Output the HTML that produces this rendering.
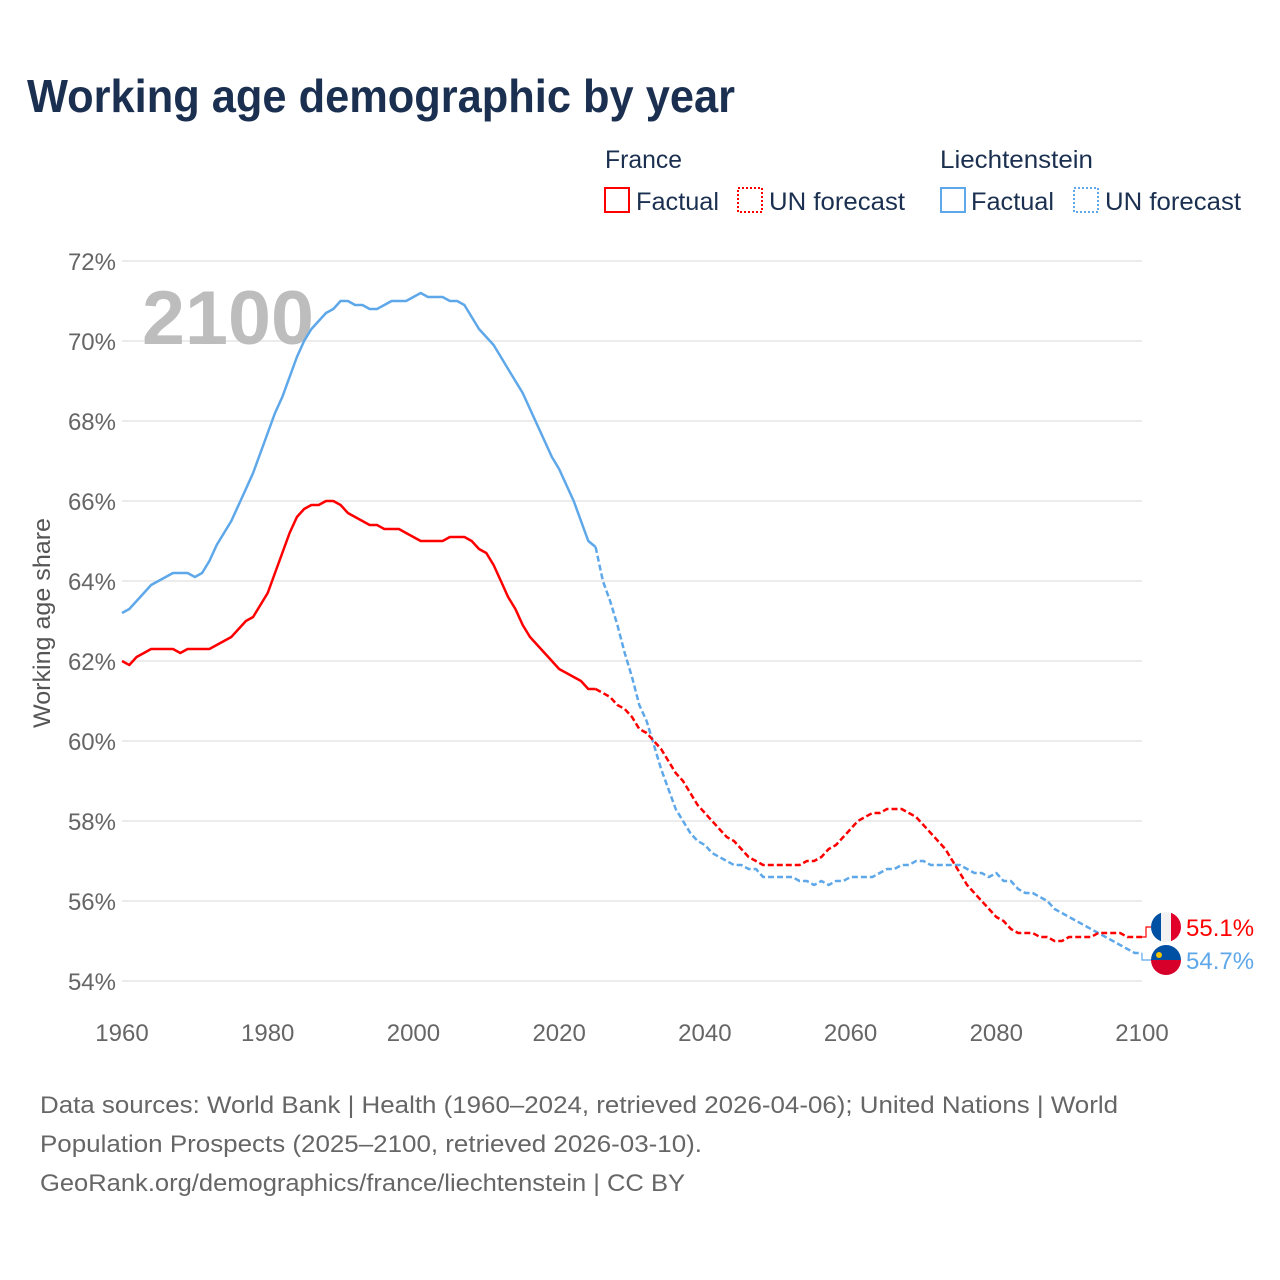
<!DOCTYPE html>
<html><head><meta charset="utf-8"><style>
body{margin:0;background:#fff;font-family:"Liberation Sans",sans-serif;}
#wrap{position:relative;width:1280px;height:1280px;overflow:hidden;}
</style></head><body>
<div id="wrap">
<svg id="chart" width="1280" height="1280" xmlns="http://www.w3.org/2000/svg">
<text x="27" y="112" font-size="46" font-weight="bold" fill="#1b3050" textLength="708" lengthAdjust="spacingAndGlyphs">Working age demographic by year</text>
<g font-size="25" fill="#1b3050">
<text x="605" y="168" textLength="77" lengthAdjust="spacingAndGlyphs">France</text>
<rect x="605" y="188" width="24" height="24" fill="none" stroke="#f00" stroke-width="2"/>
<text x="636" y="210" textLength="83" lengthAdjust="spacingAndGlyphs">Factual</text>
<rect x="738" y="188" width="24" height="24" fill="none" stroke="#f00" stroke-width="2" stroke-dasharray="2,2"/>
<text x="769" y="210" textLength="136" lengthAdjust="spacingAndGlyphs">UN forecast</text>
<text x="940" y="168" textLength="153" lengthAdjust="spacingAndGlyphs">Liechtenstein</text>
<rect x="941" y="188" width="24" height="24" fill="none" stroke="#5ea8ea" stroke-width="2"/>
<text x="971" y="210" textLength="83" lengthAdjust="spacingAndGlyphs">Factual</text>
<rect x="1074" y="188" width="24" height="24" fill="none" stroke="#5ea8ea" stroke-width="2" stroke-dasharray="2,2"/>
<text x="1105" y="210" textLength="136" lengthAdjust="spacingAndGlyphs">UN forecast</text>
</g>
<g id="grid"></g>
<text x="142" y="344" font-size="76" font-weight="bold" fill="#bdbdbd" textLength="172" lengthAdjust="spacingAndGlyphs">2100</text>
<text transform="translate(50,623) rotate(-90)" text-anchor="middle" font-size="24" fill="#555" textLength="210" lengthAdjust="spacingAndGlyphs">Working age share</text>
<g id="series"></g>
<g font-size="24" fill="#666">
<text x="40" y="1113" textLength="1078" lengthAdjust="spacingAndGlyphs">Data sources: World Bank | Health (1960–2024, retrieved 2026-04-06); United Nations | World</text>
<text x="40" y="1152" textLength="662" lengthAdjust="spacingAndGlyphs">Population Prospects (2025–2100, retrieved 2026-03-10).</text>
<text x="40" y="1191" textLength="645" lengthAdjust="spacingAndGlyphs">GeoRank.org/demographics/france/liechtenstein | CC BY</text>
</g>
</svg>
</div>
<script>
const yTicks=[54,56,58,60,62,64,66,68,70,72];
const xTicks=[1960,1980,2000,2020,2040,2060,2080,2100];
const franceFactual=[62.0,61.9,62.1,62.2,62.3,62.3,62.3,62.3,62.2,62.3,62.3,62.3,62.3,62.4,62.5,62.6,62.8,63.0,63.1,63.4,63.7,64.2,64.7,65.2,65.6,65.8,65.9,65.9,66.0,66.0,65.9,65.7,65.6,65.5,65.4,65.4,65.3,65.3,65.3,65.2,65.1,65.0,65.0,65.0,65.0,65.1,65.1,65.1,65.0,64.8,64.7,64.4,64.0,63.6,63.3,62.9,62.6,62.4,62.2,62.0,61.8,61.7,61.6,61.5,61.3,61.3];
const franceForecast=[61.3,61.2,61.1,60.9,60.8,60.6,60.3,60.2,60.0,59.8,59.5,59.2,59.0,58.7,58.4,58.2,58.0,57.8,57.6,57.5,57.3,57.1,57.0,56.9,56.9,56.9,56.9,56.9,56.9,57.0,57.0,57.1,57.3,57.4,57.6,57.8,58.0,58.1,58.2,58.2,58.3,58.3,58.3,58.2,58.1,57.9,57.7,57.5,57.3,57.0,56.7,56.4,56.2,56.0,55.8,55.6,55.5,55.3,55.2,55.2,55.2,55.1,55.1,55.0,55.0,55.1,55.1,55.1,55.1,55.2,55.2,55.2,55.2,55.1,55.1,55.1];
const liechFactual=[63.2,63.3,63.5,63.7,63.9,64.0,64.1,64.2,64.2,64.2,64.1,64.2,64.5,64.9,65.2,65.5,65.9,66.3,66.7,67.2,67.7,68.2,68.6,69.1,69.6,70.0,70.3,70.5,70.7,70.8,71.0,71.0,70.9,70.9,70.8,70.8,70.9,71.0,71.0,71.0,71.1,71.2,71.1,71.1,71.1,71.0,71.0,70.9,70.6,70.3,70.1,69.9,69.6,69.3,69.0,68.7,68.3,67.9,67.5,67.1,66.8,66.4,66.0,65.5,65.0,64.85];
const liechForecast=[64.85,64.0,63.5,62.9,62.2,61.6,60.9,60.5,59.9,59.3,58.8,58.3,58.0,57.7,57.5,57.4,57.2,57.1,57.0,56.9,56.9,56.8,56.8,56.6,56.6,56.6,56.6,56.6,56.5,56.5,56.4,56.5,56.4,56.5,56.5,56.6,56.6,56.6,56.6,56.7,56.8,56.8,56.9,56.9,57.0,57.0,56.9,56.9,56.9,56.9,56.9,56.8,56.7,56.7,56.6,56.7,56.5,56.5,56.3,56.2,56.2,56.1,56.0,55.8,55.7,55.6,55.5,55.4,55.3,55.2,55.1,55.0,54.9,54.8,54.7,54.7];
const NS="http://www.w3.org/2000/svg";
const X=y=>122+(y-1960)*(1020/140);
const Y=v=>261+(72-v)*40;
const grid=document.getElementById('grid');
const ser=document.getElementById('series');
function mk(tag,at,par){const e=document.createElementNS(NS,tag);for(const k in at)e.setAttribute(k,at[k]);par.appendChild(e);return e;}
yTicks.forEach(v=>{
 const l=mk('line',{x1:122,x2:1142,y1:Y(v),y2:Y(v),stroke:'#e6e6e6','stroke-width':1.5},grid);
 
 
 const t=mk('text',{x:116,y:Y(v)+9,'text-anchor':'end','font-size':24,fill:'#666'},grid);
 t.textContent=v+'%';
 
 
});
xTicks.forEach(yr=>{
 const t=mk('text',{x:X(yr),y:1041,'text-anchor':'middle','font-size':24,fill:'#666'},grid);
 t.textContent=yr;
 
 
});
function line(vals,start,color,dash,name){
 const d=vals.map((v,i)=>(i?'L':'M')+X(start+i).toFixed(1)+','+Y(v).toFixed(1)).join('');
 const p=mk('path',{d:d,fill:'none',stroke:color,'stroke-width':2.5,'stroke-linejoin':'round'},ser);
 if(dash)p.setAttribute('stroke-dasharray','6,3');
 
 
}
line(liechFactual,1960,'#5ea8ea',false,'liechtenstein-factual-line');
line(liechForecast,2025,'#5ea8ea',true,'liechtenstein-forecast-line');
line(franceFactual,1960,'#f00',false,'france-factual-line');
line(franceForecast,2025,'#f00',true,'france-forecast-line');
const fEnd=franceForecast[franceForecast.length-1], lEnd=liechForecast[liechForecast.length-1];
const fy=927, ly=960;
let p=mk('path',{d:`M1142,${Y(fEnd)} L1146,${Y(fEnd)} L1146,${fy} L1151,${fy}`,fill:'none',stroke:'#f00','stroke-width':1.2},ser);


p=mk('path',{d:`M1142,${Y(lEnd)} L1142,${ly} L1151,${ly}`,fill:'none',stroke:'#5ea8ea','stroke-width':1.2},ser);


const ff=mk('g',{},ser);


const cf=mk('clipPath',{id:'cf'},ff);mk('circle',{cx:1166,cy:fy,r:15},cf);
const fg=mk('g',{'clip-path':'url(#cf)'},ff);
mk('rect',{x:1151,y:fy-15,width:10,height:30,fill:'#0050a4'},fg);
mk('rect',{x:1161,y:fy-15,width:10,height:30,fill:'#f2f2f2'},fg);
mk('rect',{x:1171,y:fy-15,width:10,height:30,fill:'#e0002a'},fg);
const lf=mk('g',{},ser);


const cl=mk('clipPath',{id:'cl'},lf);mk('circle',{cx:1166,cy:ly,r:15},cl);
const lg=mk('g',{'clip-path':'url(#cl)'},lf);
mk('rect',{x:1151,y:ly-15,width:30,height:15,fill:'#0050a4'},lg);
mk('rect',{x:1151,y:ly,width:30,height:15,fill:'#d6002a'},lg);
mk('circle',{cx:1159,cy:ly-5,r:3,fill:'#f5c400'},lg);
let t=mk('text',{x:1186,y:fy+9,'font-size':24,fill:'#f00'},ser);
t.textContent=fEnd.toFixed(1)+'%';


t=mk('text',{x:1186,y:ly+9,'font-size':24,fill:'#5ea8ea'},ser);
t.textContent=lEnd.toFixed(1)+'%';


</script>
</body></html>
